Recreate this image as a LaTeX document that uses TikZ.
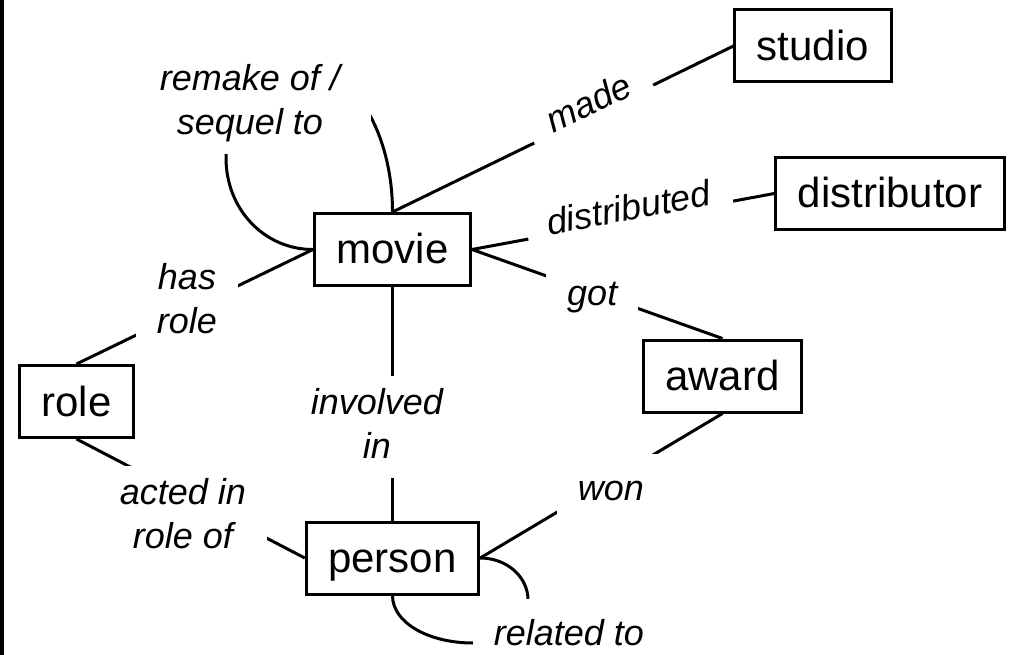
\documentclass[tikz,border=0pt]{standalone}
\usepackage{fontspec}
\setmainfont{Liberation Sans}
% strut giving every relationship label the same ascent and descent
\newcommand{\lblstrut}{\rule[-8pt]{0pt}{42pt}}
\begin{document}
\begin{tikzpicture}[x=1pt,y=-1pt,
  entity/.style={draw, line width=3pt, font=\fontsize{42}{48}\selectfont,
    text height=38pt, text depth=9pt, minimum height=72pt,
    inner xsep=22pt, inner ysep=0pt},
  link/.style={line width=3pt},
  rel/.style={fill=white, font=\fontsize{36}{44}\selectfont\itshape,
    inner xsep=21pt, inner ysep=12pt, align=center,
    execute at begin node=\lblstrut, execute at end node=\lblstrut}]
\useasboundingbox (0,0) rectangle (1015,655);
\fill[black] (0,0) rectangle (4,655);

% entities
\node[entity] (movie)       at (392.5,249.5) {movie};
\node[entity] (studio)      at (813,46)      {studio};
\node[entity] (distributor) at (890,193.5)   {distributor};
\node[entity] (role)        at (76.5,401.5)  {role};
\node[entity] (person)      at (392.5,558)   {person};
\node[entity] (award)       at (722.5,376)   {award};

% relationships
\draw[link] (movie.north) -- node[rel, sloped, anchor=base, pos=0.59] (lmade) {made} (studio.west);
\draw[link] (movie.east) -- node[rel, sloped, anchor=base, pos=0.525] (ldist) {distributed} (distributor.west);
\draw[link] (movie.east) -- node[rel, pos=0.48] (lgot) {got} (award.north);
\draw[link] (movie.west) -- (role.north);
\draw[link] (movie.south) -- (person.north);
\draw[link] (role.south) -- (person.west);
\draw[link] (award.south) -- (person.east);
\draw[link] (movie.north) .. controls (392.5,140) and (360,80) .. (320,70)
  .. controls (262,60) and (226,110) .. (226,158)
  .. controls (226,209) and (264,249.5) .. (movie.west);
\draw[link] (person.east) .. controls (507,558) and (528,577) .. (528,600)
  .. controls (528,628) and (508,643) .. (473,643)
  .. controls (429,643) and (392.5,623) .. (person.south);

% labels sitting in the gaps of their connectors
\node[rel] (lhas)    at (187,302) {has\\role};
\node[rel] (linv)    at (377,427) {involved\\in};
\node[rel] (lacted)  at (183,517) {acted in\\role of};
\node[rel] (lwon)    at (611,487) {won};
\node[rel, inner xsep=31pt] (lremake) at (250,103) {remake of /\\sequel to};
\node[rel] (lrel)    at (569,632) {related to};
\end{tikzpicture}
\end{document}
